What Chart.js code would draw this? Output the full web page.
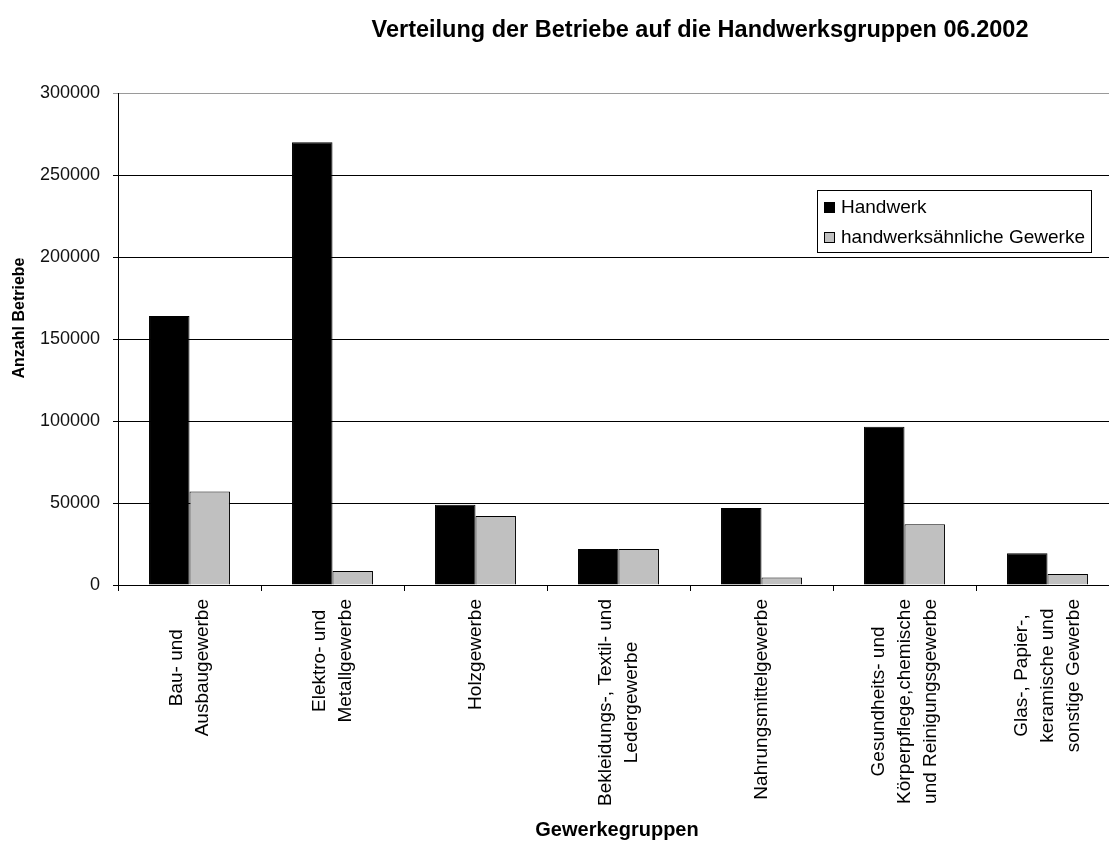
<!DOCTYPE html>
<html lang="de">
<head>
<meta charset="utf-8">
<title>Verteilung der Betriebe auf die Handwerksgruppen 06.2002</title>
<script src="https://cdn.jsdelivr.net/npm/chart.js@4.4.1/dist/chart.umd.min.js"></script>
<style>
    html, body { margin: 0; padding: 0; background: #fff; overflow: hidden; }
    #wrap { position: relative; width: 1120px; height: 844px; }
</style>
</head>
<body>
<div id="wrap"><canvas id="chart" width="1120" height="844"></canvas></div>
<script>
// Daten
const categories = [
    ['Bau- und', 'Ausbaugewerbe'],
    ['Elektro- und', 'Metallgewerbe'],
    ['Holzgewerbe'],
    ['Bekleidungs-, Textil- und', 'Ledergewerbe'],
    ['Nahrungsmittelgewerbe'],
    ['Gesundheits- und', 'Körperpflege,chemische', 'und Reinigungsgewerbe'],
    ['Glas-, Papier-,', 'keramische und', 'sonstige Gewerbe']
];
const handwerk = [164000, 270000, 49000, 22000, 47000, 96500, 19300];
const handwerksaehnlich = [57000, 8500, 42000, 22000, 4500, 37000, 6700];
const yTicks = [0, 50000, 100000, 150000, 200000, 250000, 300000];

const chartTitle = 'Verteilung der Betriebe auf die Handwerksgruppen 06.2002';
const yTitle = 'Anzahl Betriebe';
const xTitle = 'Gewerkegruppen';

const FONT = "'Liberation Sans', Arial, sans-serif";

// Titel, Achsentitel, Kategorien und Legende selbst zeichnen
const textPlugin = {
    id: 'texts',
    afterDraw(chart) {
        const ctx = chart.ctx;
        const xScale = chart.scales.x;
        ctx.save();
        ctx.fillStyle = '#000';

        // Titel
        ctx.font = `bold 23.5px ${FONT}`;
        ctx.textAlign = 'center';
        ctx.textBaseline = 'middle';
        ctx.fillText(chartTitle, 700, 31);

        // x-Achsentitel
        ctx.font = `bold 20px ${FONT}`;
        ctx.fillText(xTitle, 617, 830);

        // y-Achsentitel
        ctx.font = `bold 16px ${FONT}`;
        ctx.save();
        ctx.translate(20, 318);
        ctx.rotate(-Math.PI / 2);
        ctx.fillText(yTitle, 0, 0);
        ctx.restore();

        // Kategorien (gedreht, Zeilen zentriert)
        ctx.font = `19px ${FONT}`;
        const lineH = 26;
        categories.forEach((lines, i) => {
            const cx = xScale.getPixelForValue(i);
            const maxW = Math.max(...lines.map(l => ctx.measureText(l).width));
            const cy = chart.chartArea.bottom + 14 + maxW / 2;
            lines.forEach((line, j) => {
                const lx = cx + (j - (lines.length - 1) / 2) * lineH;
                ctx.save();
                ctx.translate(lx, cy);
                ctx.rotate(-Math.PI / 2);
                ctx.fillText(line, 0, 0);
                ctx.restore();
            });
        });

        // Legende
        const bx = 817, by = 190, bw = 274, bh = 62;
        ctx.fillStyle = '#fff';
        ctx.fillRect(bx, by, bw, bh);
        ctx.strokeStyle = '#000';
        ctx.lineWidth = 1;
        ctx.strokeRect(bx + 0.5, by + 0.5, bw, bh);
        ctx.textAlign = 'left';
        chart.data.datasets.forEach((ds, i) => {
            const y = 207 + i * 30;
            ctx.fillStyle = ds.backgroundColor;
            ctx.fillRect(824, y - 5, 11, 11);
            ctx.strokeRect(824.5, y - 4.5, 10, 10);
            ctx.fillStyle = '#000';
            ctx.fillText(ds.label, 841, y + 1);
        });
        ctx.restore();
    }
};

new Chart(document.getElementById('chart'), {
    type: 'bar',
    data: {
        labels: categories,
        datasets: [
            {
                label: 'Handwerk',
                data: handwerk,
                backgroundColor: '#000000',
                borderColor: '#000000',
                borderWidth: 1
            },
            {
                label: 'handwerksähnliche Gewerke',
                data: handwerksaehnlich,
                backgroundColor: '#c0c0c0',
                borderColor: '#000000',
                borderWidth: 1
            }
        ]
    },
    options: {
        responsive: false,
        animation: false,
        categoryPercentage: 0.566,
        barPercentage: 1.0,
        layout: { padding: { top: 93, right: 1, left: 0, bottom: 0 } },
        plugins: {
            legend: { display: false },
            title: { display: false },
            tooltip: { enabled: false }
        },
        scales: {
            x: {
                grid: {
                    offset: true,
                    drawOnChartArea: false,
                    drawTicks: true,
                    tickLength: 6,
                    color: '#000'
                },
                border: { color: '#000', width: 1 },
                ticks: { callback: () => '', maxRotation: 0 },
                afterFit(scale) { scale.height = 844 - 585; }
            },
            y: {
                min: 0,
                max: 300000,
                afterBuildTicks(scale) { scale.ticks = yTicks.map(v => ({ value: v })); },
                grid: {
                    color: ctx => (ctx.tick && ctx.tick.value === 300000 ? '#9a9a9a' : '#000'),
                    tickLength: 5,
                    lineWidth: 1
                },
                border: { color: '#000', width: 1 },
                ticks: {
                    padding: 13,
                    color: '#111',
                    font: { family: FONT, size: 18 },
                    callback: v => String(v)
                },
                afterFit(scale) { scale.width = 118; }
            }
        }
    },
    plugins: [textPlugin]
});
</script>
</body>
</html>
